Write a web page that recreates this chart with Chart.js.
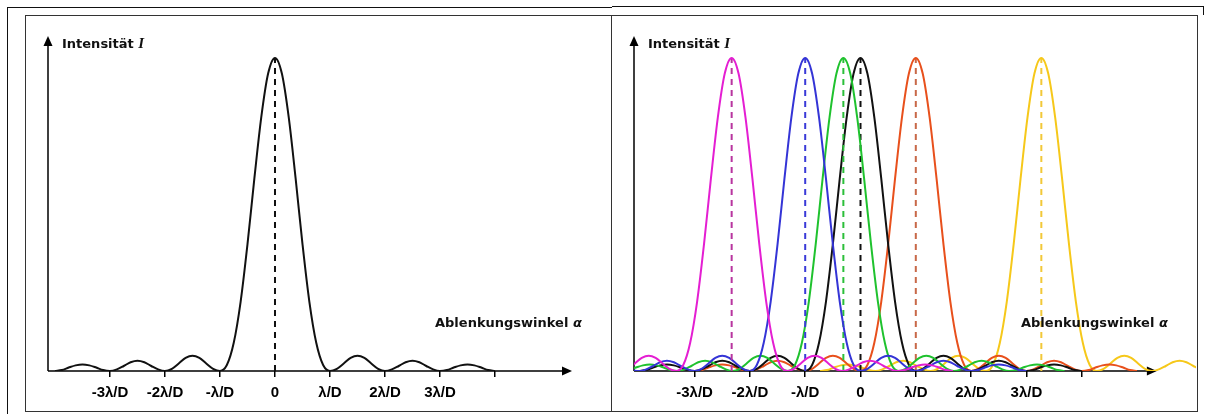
<!DOCTYPE html>
<html>
<head>
<meta charset="utf-8">
<script src="https://cdn.jsdelivr.net/npm/chart.js@4.4.1/dist/chart.umd.min.js"></script>
<style>
  html, body { margin:0; padding:0; background:#fff; }
  body { width:1206px; height:414px; position:relative; overflow:hidden; }
  .ln { position:absolute; background:#111; }
  .panel { position:absolute; box-sizing:border-box; border:1px solid #333; background:#fff; }
  .panel canvas { position:absolute; left:0; top:0; }
  .lbl { position:absolute; font-family:'DejaVu Sans', sans-serif; font-weight:bold; font-size:13px; color:#111; white-space:nowrap; line-height:16px; }
  .lbl i.ser { font-family:'Liberation Serif', serif; font-style:italic; font-weight:bold; font-size:15px; }
</style>
</head>
<body>
<div class="ln" style="left:7px;top:7px;width:605px;height:1px;"></div>
<div class="ln" style="left:612px;top:6px;width:591px;height:1px;"></div>
<div class="ln" style="left:7px;top:7px;width:1px;height:407px;"></div>
<div class="ln" style="left:1203px;top:6px;width:1px;height:9px;"></div>

<div class="panel" style="left:25px;top:15px;width:587px;height:397px;">
  <canvas id="leftChart" width="585" height="395"></canvas>
</div>
<div class="panel" style="left:611px;top:15px;width:587px;height:397px;">
  <canvas id="rightChart" width="585" height="395"></canvas>
</div>

<div class="lbl" style="left:62px;top:35px;">Intensität <i class="ser">I</i></div>
<div class="lbl" style="left:435px;top:315px;">Ablenkungswinkel <i>α</i></div>
<div class="lbl" style="left:648px;top:35px;">Intensität <i class="ser">I</i></div>
<div class="lbl" style="left:1021px;top:315px;">Ablenkungswinkel <i>α</i></div>

<script>
// ---- data ----
// x in units of λ/D, intensity normalised to the main peak
const tickValues = [-3, -2, -1, 0, 1, 2, 3, 4];
const tickLabels = ['-3λ/D', '-2λ/D', '-λ/D', '0', 'λ/D', '2λ/D', '3λ/D', ''];

// diffraction profile (offset from the peak, intensity)
const profileOffsets = [
  -4, -3.875, -3.75, -3.625, -3.5, -3.375, -3.25, -3.125,
  -3, -2.875, -2.75, -2.625, -2.5, -2.375, -2.25, -2.125,
  -2, -1.875, -1.75, -1.625, -1.5, -1.375, -1.25, -1.125,
  -1, -0.875, -0.75, -0.625, -0.5, -0.375, -0.25, -0.125,
  0,
  0.125, 0.25, 0.375, 0.5, 0.625, 0.75, 0.875, 1,
  1.125, 1.25, 1.375, 1.5, 1.625, 1.75, 1.875, 2,
  2.125, 2.25, 2.375, 2.5, 2.625, 2.75, 2.875, 3,
  3.125, 3.25, 3.375, 3.5, 3.625, 3.75, 3.875, 4
];
const profileValues = [
  0, 0.003, 0.011, 0.018, 0.021, 0.018, 0.011, 0.003,
  0, 0.005, 0.016, 0.028, 0.033, 0.028, 0.016, 0.005,
  0, 0.007, 0.024, 0.042, 0.049, 0.042, 0.024, 0.007,
  0, 0.019, 0.090, 0.221, 0.405, 0.615, 0.810, 0.950,
  1,
  0.950, 0.810, 0.615, 0.405, 0.221, 0.090, 0.019, 0,
  0.007, 0.024, 0.042, 0.049, 0.042, 0.024, 0.007, 0,
  0.005, 0.016, 0.028, 0.033, 0.028, 0.016, 0.005, 0,
  0.003, 0.011, 0.018, 0.021, 0.018, 0.011, 0.003, 0
];

// peak positions (λ/D)
const leftCenters = [0];
const rightNames = ['magenta', 'blau', 'grün', 'schwarz', 'orange', 'gelb'];
const rightCenters = [-2.33, -1.0, -0.31, 0, 1.0, 3.27];

// ---- styles ----
const leftColors = ['#111111'];
const leftDashColors = ['#111111'];
const rightColors = ['#e41ed2', '#3434d6', '#1fc22e', '#111111', '#e8501c', '#f6c81a'];
const rightDashColors = ['#b8359f', '#3a3ad8', '#2cbf3a', '#111111', '#c86848', '#f2c838'];

function curve(center) {
  return profileOffsets.map((o, i) => ({ x: center + o, y: profileValues[i] }));
}
function peakLine(center) {
  return [{ x: center, y: 0 }, { x: center, y: 1 }];
}

function buildDatasets(centers, colors, dashColors, names) {
  const ds = [];
  centers.forEach((c, i) => {
    ds.push({
      label: names ? names[i] : 'I',
      data: curve(c),
      borderColor: colors[i], borderWidth: 2, pointRadius: 0,
      cubicInterpolationMode: 'monotone', fill: false
    });
    ds.push({
      label: (names ? names[i] : 'I') + ' peak',
      data: peakLine(c),
      borderColor: dashColors[i], borderWidth: 2, pointRadius: 0,
      borderDash: [6, 5], fill: false
    });
  });
  return ds;
}

const axisPlugin = {
  id: 'axisArrows',
  beforeDatasetsDraw(chart, args, opts) {
    const { ctx, chartArea } = chart;
    const xs = chart.scales.x, ys = chart.scales.y;
    const x0 = chartArea.left;
    const y0 = ys.getPixelForValue(0);
    const xEnd = xs.getPixelForValue(opts.xEnd);
    const yTop = chartArea.top;
    ctx.save();
    ctx.strokeStyle = '#000';
    ctx.fillStyle = '#000';
    ctx.lineWidth = 1.5;
    ctx.beginPath();
    ctx.moveTo(x0, y0); ctx.lineTo(xEnd - 6, y0);
    ctx.moveTo(x0, y0); ctx.lineTo(x0, yTop + 6);
    ctx.stroke();
    ctx.beginPath();
    ctx.moveTo(xEnd, y0); ctx.lineTo(xEnd - 10, y0 - 4.5); ctx.lineTo(xEnd - 10, y0 + 4.5); ctx.closePath();
    ctx.fill();
    ctx.beginPath();
    ctx.moveTo(x0, yTop); ctx.lineTo(x0 - 4.5, yTop + 10); ctx.lineTo(x0 + 4.5, yTop + 10); ctx.closePath();
    ctx.fill();
    ctx.restore();
  }
};

function makeChart(id, datasets, xMin, xMax, xEnd, pad) {
  return new Chart(document.getElementById(id), {
    type: 'line',
    data: { datasets },
    options: {
      responsive: false, animation: false, events: [],
      devicePixelRatio: 1,
      layout: { padding: pad },
      plugins: { legend: { display: false }, tooltip: { enabled: false }, axisArrows: { xEnd } },
      scales: {
        x: {
          type: 'linear', min: xMin, max: xMax,
          afterBuildTicks: (s) => { s.ticks = tickValues.map(v => ({ value: v })); },
          afterFit: (s) => { s.height = 40; },
          grid: { display: true, drawOnChartArea: false, drawTicks: true, tickLength: 6, color: '#000', lineWidth: 1.5 },
          border: { display: false },
          ticks: {
            padding: 7, color: '#000', maxRotation: 0, autoSkip: false,
            font: { family: "'Liberation Sans', Arial, sans-serif", size: 15, weight: 'bold' },
            callback: (v) => { const k = tickValues.indexOf(v); return k >= 0 ? tickLabels[k] : ''; }
          }
        },
        y: { type: 'linear', min: 0, max: 1.07, display: false }
      }
    },
    plugins: [axisPlugin]
  });
}

makeChart('leftChart', buildDatasets(leftCenters, leftColors, leftDashColors, null),
  -4.127, 5.818, 5.4, { left: 22, top: 20, right: 16, bottom: 0 });
makeChart('rightChart', buildDatasets(rightCenters, rightColors, rightDashColors, rightNames),
  -4.096, 6.067, 5.36, { left: 22, top: 20, right: 1, bottom: 0 });
</script>
</body>
</html>
